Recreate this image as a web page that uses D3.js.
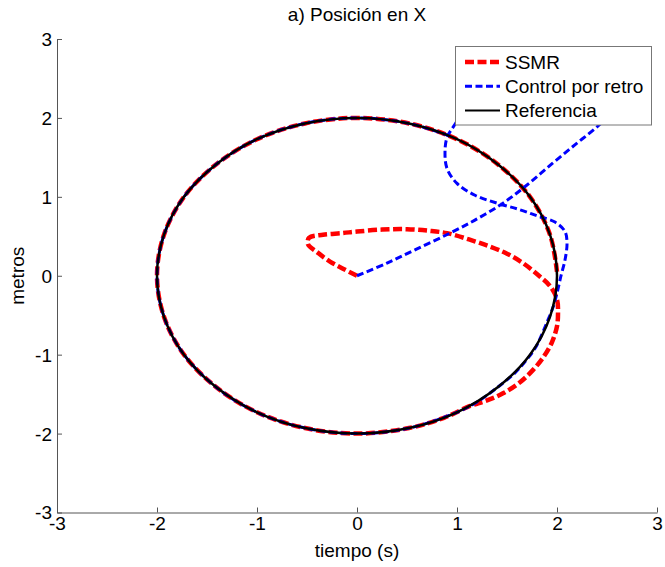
<!DOCTYPE html>
<html>
<head>
<meta charset="utf-8">
<script src="https://cdn.jsdelivr.net/npm/d3@7/dist/d3.min.js"></script>
<style>
  html, body { margin: 0; padding: 0; background: #fff; }
  svg { display: block; }
  text { font-family: "Liberation Sans", Arial, Helvetica, sans-serif; fill: #000; }
</style>
</head>
<body>
<svg id="chart" width="665" height="567"></svg>
<script>
// ---- data ----
const title = "a) Posición en X";
const xLabel = "tiempo (s)";
const yLabel = "metros";
const xTicks = [-3, -2, -1, 0, 1, 2, 3];
const yTicks = [-3, -2, -1, 0, 1, 2, 3];
const seriesNames = ["SSMR", "Control por retro", "Referencia"];

// SSMR trajectory [x, y]
const ssmr = [
  [0, 0], [-0.14, 0.09], [-0.27, 0.18], [-0.40, 0.30], [-0.49, 0.40], [-0.48, 0.48],
  [-0.34, 0.52], [-0.15, 0.54], [0, 0.56], [0.25, 0.585], [0.5, 0.59], [0.72, 0.57],
  [0.9, 0.54], [1.12, 0.46], [1.33, 0.37], [1.5, 0.28], [1.66, 0.16], [1.82, 0.0],
  [1.93, -0.13], [2.0, -0.3], [2.01, -0.48], [2.0, -0.64], [1.95, -0.84], [1.87, -1.02],
  [1.77, -1.18], [1.63, -1.35], [1.46, -1.49], [1.30, -1.58], [1.13, -1.65],
  [0.87, -1.80], [0.52, -1.93], [0, -2], [-0.52, -1.93], [-1, -1.73], [-1.41, -1.41],
  [-1.73, -1], [-1.93, -0.52], [-2, 0], [-1.93, 0.52], [-1.73, 1], [-1.41, 1.41],
  [-1, 1.73], [-0.52, 1.93], [0, 2], [0.52, 1.93], [1, 1.73], [1.41, 1.41],
  [1.73, 1], [1.93, 0.52], [2, 0.05]
];

// Control por retro trajectory [x, y]
const control = [
  [0, 0], [0.3, 0.16], [0.6, 0.34], [0.93, 0.54], [1.2, 0.72], [1.46, 0.92],
  [1.7, 1.15], [1.96, 1.43], [2.2, 1.68], [2.43, 1.92], [2.6, 2.15], [2.62, 2.45],
  [2.4, 2.65], [1.95, 2.65], [1.45, 2.45], [1.1, 2.15], [0.98, 1.92], [0.9, 1.75],
  [0.88, 1.56], [0.9, 1.36], [1.0, 1.17], [1.18, 1.02], [1.40, 0.92], [1.62, 0.84],
  [1.80, 0.76], [1.98, 0.68], [2.08, 0.56], [2.10, 0.41], [2.08, 0.2], [2.04, 0.0],
  [2.0, -0.22], [1.96, -0.40], [1.91, -0.56], [1.85, -0.74], [1.79, -0.90], [1.70, -1.06],
  [1.58, -1.23], [1.41, -1.41], [1.2, -1.6], [1, -1.73], [0.52, -1.93], [0, -2],
  [-0.52, -1.93], [-1, -1.73], [-1.41, -1.41], [-1.73, -1], [-1.93, -0.52], [-2, 0],
  [-1.93, 0.52], [-1.73, 1], [-1.41, 1.41], [-1, 1.73], [-0.52, 1.93], [0, 2],
  [0.52, 1.93], [0.93, 1.77]
];

// Referencia (circle of radius 2) [x, y]
const referencia = [
  [2, 0], [1.93, -0.52], [1.73, -1], [1.41, -1.41], [1, -1.73], [0.52, -1.93],
  [0, -2], [-0.52, -1.93], [-1, -1.73], [-1.41, -1.41], [-1.73, -1], [-1.93, -0.52],
  [-2, 0], [-1.93, 0.52], [-1.73, 1], [-1.41, 1.41], [-1, 1.73], [-0.52, 1.93],
  [0, 2], [0.52, 1.93], [1, 1.73], [1.41, 1.41], [1.73, 1], [1.93, 0.52]
];

// ---- chart ----
const svg = d3.select("#chart");
const L = 57, R = 657, T = 39, B = 512.5;
const x = d3.scaleLinear().domain([-3, 3]).range([L, R]);
const y = d3.scaleLinear().domain([-3, 3]).range([B, T]);
const FS = 19;

const axisColor = "#555";
const fmt = d => String(d);

// axes
const xAxis = d3.axisBottom(x).tickValues(xTicks).tickFormat(fmt).tickSizeInner(-5).tickSizeOuter(0).tickPadding(12);
const gx = svg.append("g").attr("transform", `translate(0,${B})`).call(xAxis);
const yAxis = d3.axisLeft(y).tickValues(yTicks).tickFormat(fmt).tickSizeInner(-5).tickSizeOuter(0).tickPadding(12);
const gy = svg.append("g").attr("transform", `translate(${L},0)`).call(yAxis);
[gx, gy].forEach(g => {
  g.select(".domain").attr("stroke", axisColor).attr("stroke-width", 1);
  g.selectAll(".tick line").attr("stroke", axisColor).attr("stroke-width", 1);
  g.selectAll(".tick text").attr("font-size", FS).attr("fill", "#000")
    .attr("font-family", '"Liberation Sans", Arial, sans-serif');
});
gx.selectAll(".tick text").attr("y", 4).attr("dy", "0.72em");
gy.selectAll(".tick text").attr("x", -5).attr("dy", "0.34em");

const clip = svg.append("clipPath").attr("id", "clip").append("rect")
  .attr("x", L).attr("y", T).attr("width", R - L).attr("height", B - T);

const line = d3.line().x(d => x(d[0])).y(d => y(d[1])).curve(d3.curveCatmullRom.alpha(0.5));
const closedLine = d3.line().x(d => x(d[0])).y(d => y(d[1])).curve(d3.curveCardinalClosed.tension(0));

const plot = svg.append("g").attr("clip-path", "url(#clip)");
plot.append("path").datum(ssmr).attr("d", line)
  .attr("fill", "none").attr("stroke", "#ff0000").attr("stroke-width", 4.5)
  .attr("stroke-dasharray", "9,3.5");
plot.append("path").datum(control).attr("d", line)
  .attr("fill", "none").attr("stroke", "#0000ff").attr("stroke-width", 3)
  .attr("stroke-dasharray", "7,3.5");
plot.append("path").datum(referencia).attr("d", closedLine)
  .attr("fill", "none").attr("stroke", "#000").attr("stroke-width", 2.5);

// title and labels
svg.append("text").attr("x", 357).attr("y", 21).attr("text-anchor", "middle")
  .attr("font-size", FS).text(title);
svg.append("text").attr("x", 357).attr("y", 557).attr("text-anchor", "middle")
  .attr("font-size", FS).text(xLabel);
svg.append("text").attr("transform", `translate(24,${y(0)}) rotate(-90)`)
  .attr("text-anchor", "middle").attr("font-size", FS).text(yLabel);

// legend
const lg = svg.append("g");
lg.append("rect").attr("x", 455.5).attr("y", 46.5).attr("width", 196).attr("height", 78.5)
  .attr("fill", "#fff").attr("stroke", "#777").attr("stroke-width", 1);
const legendStyles = [
  { color: "#ff0000", w: 4.5, dash: "9,3.5" },
  { color: "#0000ff", w: 3, dash: "7,3.5" },
  { color: "#000", w: 2, dash: null }
];
seriesNames.forEach((name, i) => {
  const cy = 62 + i * 24.3;
  const s = legendStyles[i];
  const l = lg.append("line").attr("x1", 465).attr("x2", 500).attr("y1", cy).attr("y2", cy)
    .attr("stroke", s.color).attr("stroke-width", s.w);
  if (s.dash) l.attr("stroke-dasharray", s.dash);
  lg.append("text").attr("x", 505).attr("y", cy).attr("dy", "0.35em")
    .attr("font-size", FS).text(name);
});
</script>
</body>
</html>
